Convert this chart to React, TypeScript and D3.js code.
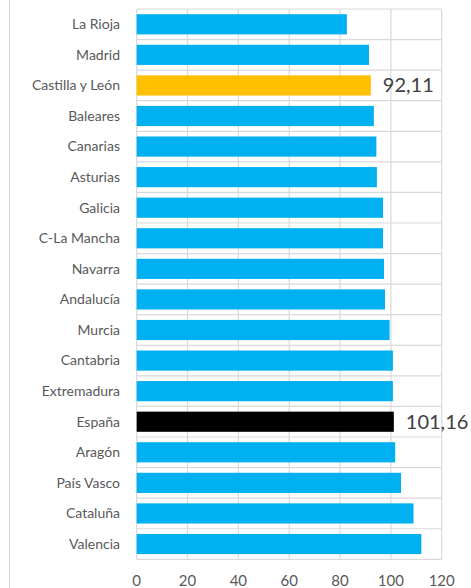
import { useEffect, useRef } from "react";
import * as d3 from "d3";

const regions = [
  "La Rioja", "Madrid", "Castilla y León", "Baleares", "Canarias", "Asturias",
  "Galicia", "C-La Mancha", "Navarra", "Andalucía", "Murcia", "Cantabria",
  "Extremadura", "España", "Aragón", "País Vasco", "Cataluña", "Valencia",
];
const values = [
  82.7, 91.4, 92.11, 93.3, 94.3, 94.5, 96.9, 96.9, 97.3, 97.7, 99.5, 100.8,
  100.8, 101.16, 101.7, 104.0, 108.9, 112.0,
];
const xTicks = [0, 20, 40, 60, 80, 100, 120];
const highlight: Record<string, string> = { "Castilla y León": "#ffc000", "España": "#000000" };
const labelled = ["Castilla y León", "España"];

const W = 471, H = 588;
const font = "Lato, 'Open Sans', sans-serif";

const App = () => {
  const svgRef = useRef<SVGSVGElement>(null);

  useEffect(() => {
    const svg = d3.select(svgRef.current);
    svg.selectAll("*").remove();

    const x = d3.scaleLinear().domain([0, 120]).range([136.7, 441.7]);
    const y = d3.scaleBand().domain(regions).range([9, 559.3]).paddingInner(0.34).paddingOuter(0.17);
    const step = y.step();
    const top = 9, bottom = 559.3;

    // outer frame line on the left
    svg.append("line").attr("x1", 9.5).attr("x2", 9.5).attr("y1", 0).attr("y2", H)
      .attr("stroke", "#d9d9d9").attr("stroke-width", 1);

    const grid = svg.append("g").attr("stroke", "#d9d9d9").attr("stroke-width", 1.2);
    grid.selectAll("line.v").data(xTicks).join("line").attr("class", "v")
      .attr("x1", (d) => x(d)).attr("x2", (d) => x(d)).attr("y1", top).attr("y2", bottom);
    grid.selectAll("line.h").data(d3.range(regions.length + 1)).join("line").attr("class", "h")
      .attr("x1", x(0)).attr("x2", x(120))
      .attr("y1", (i) => top + i * step).attr("y2", (i) => top + i * step);

    svg.append("g").selectAll("rect").data(regions).join("rect")
      .attr("x", x(0))
      .attr("y", (d) => y(d)!)
      .attr("height", y.bandwidth())
      .attr("width", (d, i) => x(values[i]) - x(0))
      .attr("fill", (d) => highlight[d] ?? "#00b0f0");

    svg.append("g").selectAll("text").data(regions).join("text")
      .attr("x", 120)
      .attr("y", (d) => y(d)! + y.bandwidth() / 2)
      .attr("dy", "0.35em")
      .attr("text-anchor", "end")
      .attr("font-family", font).attr("font-size", 14).attr("fill", "#595959")
      .text((d) => d);

    svg.append("g").selectAll("text").data(labelled).join("text")
      .attr("x", (d) => x(values[regions.indexOf(d)]) + 12)
      .attr("y", (d) => y(d)! + y.bandwidth() / 2)
      .attr("dy", "0.35em")
      .attr("font-family", font).attr("font-size", 20).attr("fill", "#404040")
      .text((d) => d3.format(".2f")(values[regions.indexOf(d)]).replace(".", ","));

    svg.append("g").selectAll("text").data(xTicks).join("text")
      .attr("x", (d) => x(d)).attr("y", 586)
      .attr("text-anchor", "middle")
      .attr("font-family", font).attr("font-size", 15).attr("fill", "#595959")
      .text((d) => d);

    return () => { svg.selectAll("*").remove(); };
  }, []);

  return (
    <svg ref={svgRef} width={W} height={H}
      style={{ position: "absolute", left: 0, top: 0, background: "#fff" }} />
  );
};

export default App;
